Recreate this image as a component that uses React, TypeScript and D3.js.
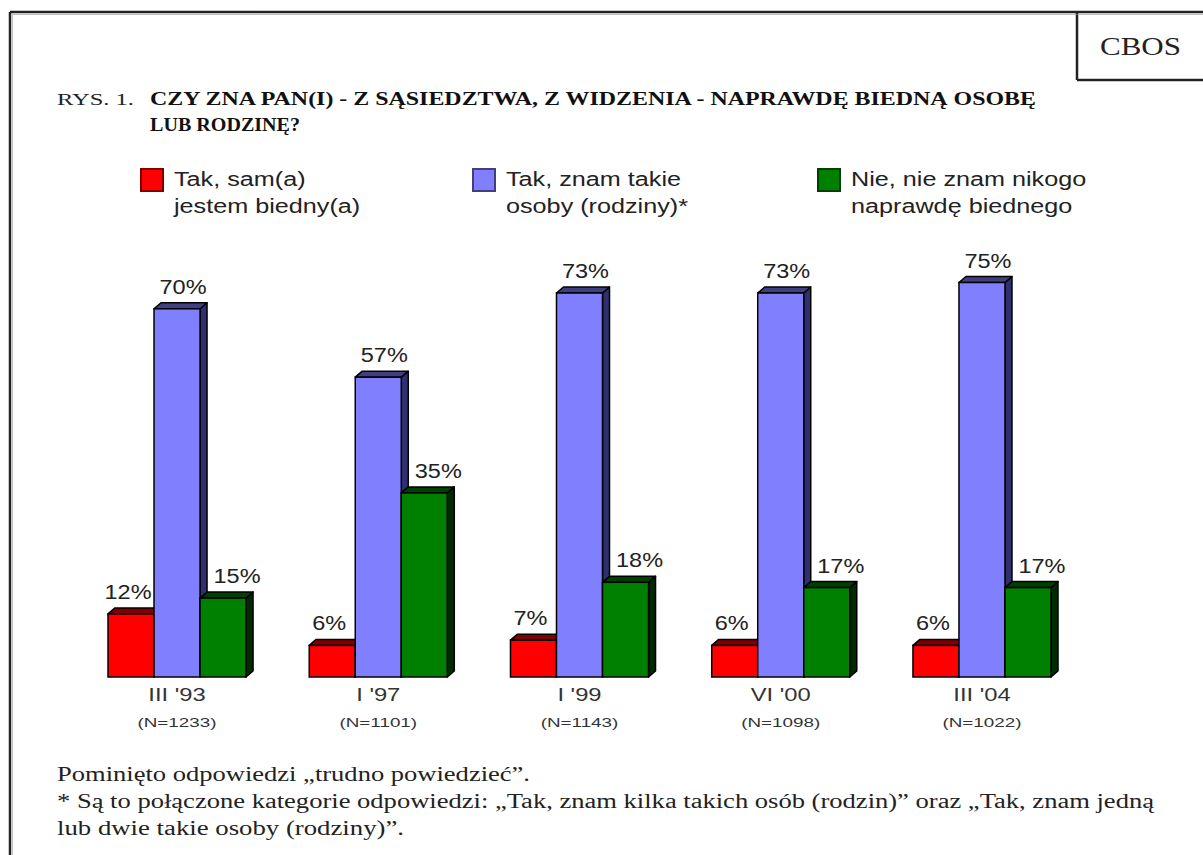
import React from "react";
import * as d3 from "d3";

const categories = ["III '93", "I '97", "I '99", "VI '00", "III '04"];
const sampleSizes = ["(N=1233)", "(N=1101)", "(N=1143)", "(N=1098)", "(N=1022)"];
const seriesKeys = ["sam", "znam", "nie"];
const samValues = [12, 6, 7, 6, 6];
const znamValues = [70, 57, 73, 73, 75];
const nieValues = [15, 35, 18, 17, 17];
const seriesLegend = [
  ["Tak, sam(a)", "jestem biedny(a)"],
  ["Tak, znam takie", "osoby (rodziny)*"],
  ["Nie, nie znam nikogo", "naprawdę biednego"],
];
const titleLines = [
  "CZY ZNA PAN(I) - Z SĄSIEDZTWA, Z WIDZENIA - NAPRAWDĘ BIEDNĄ OSOBĘ",
  "LUB RODZINĘ?",
];
const footerLines = [
  "Pominięto odpowiedzi „trudno powiedzieć”.",
  "* Są to połączone kategorie odpowiedzi: „Tak, znam kilka takich osób (rodzin)” oraz „Tak, znam jedną",
  "lub dwie takie osoby (rodziny)”.",
];

const seriesValues = [samValues, znamValues, nieValues];
const colors = ["#ff0000", "#8080ff", "#008000"];
const topColors = ["#800000", "#404080", "#004000"];
const sideColors = ["#600000", "#303070", "#002a00"];
const labelDx = [-3, 6, 14];

const SANS = "'Liberation Sans', Arial, sans-serif";
const SERIF = "'Liberation Serif', 'Times New Roman', serif";

function SText({ x, y, sx = 1, size, anchor = "start", family = SANS, weight = "normal", fill = "#222", children }: any) {
  return (
    <g transform={`translate(${x},${y}) scale(${sx},1)`}>
      <text x={0} y={0} fontFamily={family} fontSize={size} fontWeight={weight} fill={fill} textAnchor={anchor}>
        {children}
      </text>
    </g>
  );
}

export default function App() {
  const W = 1203;
  const H = 855;
  const x0 = d3.scaleBand<string>().domain(categories).range([108, 1051]).paddingInner(0.314).paddingOuter(0);
  const x1 = d3.scaleBand<string>().domain(seriesKeys).range([0, x0.bandwidth()]).padding(0);
  const y = d3.scaleLinear().domain([0, 100]).range([677, 151]);
  const dx = 7;
  const dy = 6;
  const base = y(0);
  const bw = x1.bandwidth();

  const legendX = [141, 473, 818];

  return (
    <svg width={W} height={H} style={{ position: "absolute", left: 0, top: 0, background: "#fff" }}>
      <rect x={0} y={0} width={W} height={H} fill="#fff" />
      {/* frame */}
      <g stroke="#222" strokeWidth={2.5} fill="none">
        <line x1={10} y1={12} x2={W} y2={12} />
        <line x1={10} y1={12} x2={10} y2={H} />
        <line x1={1077} y1={12} x2={1077} y2={80} />
        <line x1={1077} y1={80} x2={W} y2={80} />
      </g>
      <g stroke="#999" strokeWidth={1} fill="none" opacity={0.6}>
        <line x1={12} y1={14.5} x2={W} y2={14.5} />
        <line x1={12.5} y1={14} x2={12.5} y2={H} />
      </g>
      <text x={1100} y={55} fontFamily={SERIF} fontSize={25} fill="#222" textLength={81} lengthAdjust="spacingAndGlyphs">CBOS</text>

      {/* title */}
      <text x={57} y={105} fontFamily={SERIF} fontSize={17} fill="#222" textLength={77} lengthAdjust="spacingAndGlyphs">RYS. 1.</text>
      <text x={150} y={105} fontFamily={SERIF} fontSize={18.5} fontWeight="bold" fill="#111" textLength={886} lengthAdjust="spacingAndGlyphs">{titleLines[0]}</text>
      <text x={150} y={131} fontFamily={SERIF} fontSize={18.5} fontWeight="bold" fill="#111" textLength={150} lengthAdjust="spacingAndGlyphs">{titleLines[1]}</text>

      {/* legend */}
      {seriesLegend.map((lines, i) => (
        <g key={i}>
          <rect x={legendX[i]} y={169} width={22} height={22} fill={colors[i]} stroke={topColors[i]} strokeWidth={2} />
          {lines.map((l, j) => (
            <SText key={j} x={legendX[i] + 33} y={186 + j * 27} size={21} sx={1.2}>{l}</SText>
          ))}
        </g>
      ))}

      {/* bars */}
      {categories.map((c, ci) => (
        <g key={c}>
          {seriesKeys.map((s, si) => {
            const v = seriesValues[si][ci];
            const bx = (x0(c) as number) + (x1(s) as number);
            const by = y(v);
            const top = `M${bx},${by} L${bx + dx},${by - dy} L${bx + bw + dx},${by - dy} L${bx + bw},${by} Z`;
            const side = `M${bx + bw},${by} L${bx + bw + dx},${by - dy} L${bx + bw + dx},${base - dy} L${bx + bw},${base} Z`;
            return (
              <g key={s}>
                <path d={side} fill={sideColors[si]} stroke="#000" strokeWidth={1.5} strokeLinejoin="round" />
                <path d={top} fill={topColors[si]} stroke="#000" strokeWidth={1.5} strokeLinejoin="round" />
                <rect x={bx} y={by} width={bw} height={base - by} fill={colors[si]} stroke="#000" strokeWidth={1.5} />
              </g>
            );
          })}
          {seriesKeys.map((s, si) => {
            const v = seriesValues[si][ci];
            const cx = (x0(c) as number) + (x1(s) as number) + bw / 2 + labelDx[si];
            return (
              <SText key={"l" + s} x={cx} y={y(v) - 15} size={21} sx={1.12} anchor="middle">{`${v}%`}</SText>
            );
          })}
          <SText x={(x0(c) as number) + x0.bandwidth() / 2} y={701} size={19} sx={1.25} anchor="middle" fill="#333">{c}</SText>
          <SText x={(x0(c) as number) + x0.bandwidth() / 2} y={727} size={13} sx={1.45} anchor="middle" fill="#333">{sampleSizes[ci]}</SText>
        </g>
      ))}

      {/* footer */}
      <text x={57} y={781} fontFamily={SERIF} fontSize={20} fill="#222" textLength={473} lengthAdjust="spacingAndGlyphs">{footerLines[0]}</text>
      <text x={57} y={808} fontFamily={SERIF} fontSize={20} fill="#222" textLength={1097} lengthAdjust="spacingAndGlyphs">{footerLines[1]}</text>
      <text x={57} y={835} fontFamily={SERIF} fontSize={20} fill="#222" textLength={347} lengthAdjust="spacingAndGlyphs">{footerLines[2]}</text>
    </svg>
  );
}
